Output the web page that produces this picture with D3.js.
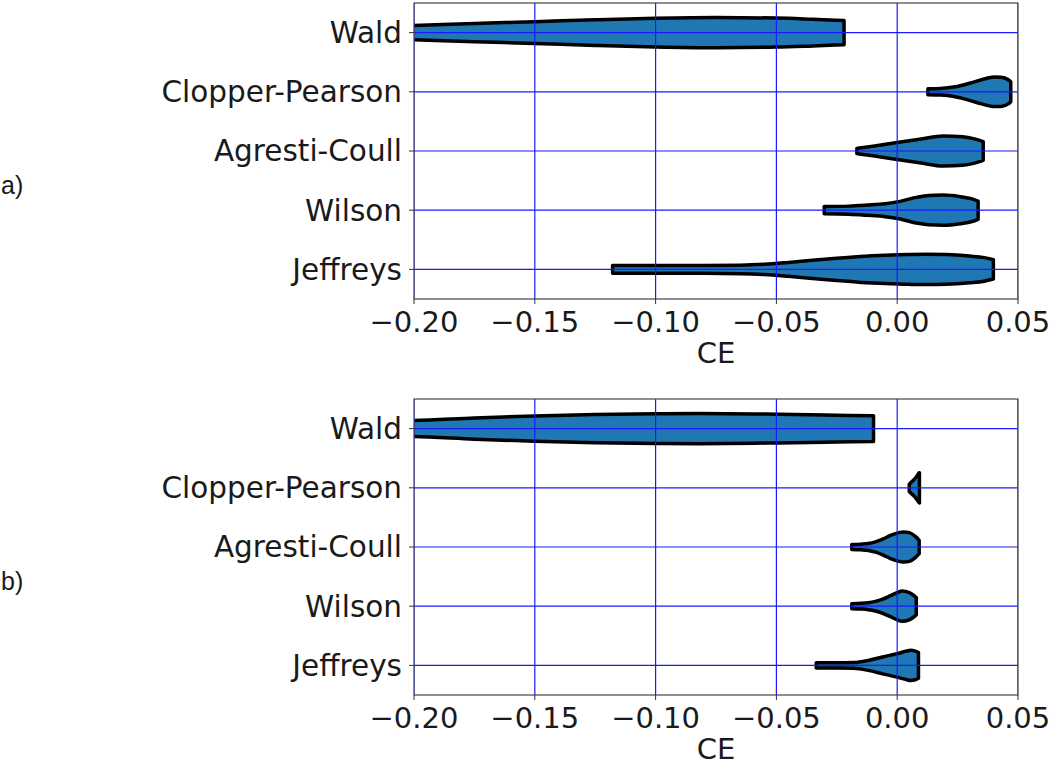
<!DOCTYPE html>
<html>
<head>
<meta charset="utf-8">
<script src="https://cdn.jsdelivr.net/npm/d3@7"></script>
<style>
  body { margin: 0; background: #fff; }
  text { font-family: "DejaVu Sans", sans-serif; fill: #1a1a1a; }
</style>
</head>
<body>
<svg id="chart" width="1051" height="765"></svg>
<script>
const methods = ["Wald", "Clopper-Pearson", "Agresti-Coull", "Wilson", "Jeffreys"];
const xTicks = [-0.2, -0.15, -0.1, -0.05, 0.0, 0.05];
const xTickLabels = ["\u22120.20", "\u22120.15", "\u22120.10", "\u22120.05", "0.00", "0.05"];
const panelNames = ["a)", "b)"];

// violin outlines: [CE, half width relative to the widest point]
const waldA = [[-0.21, 0.42], [-0.2, 0.47], [-0.175, 0.6], [-0.15, 0.72], [-0.125, 0.85], [-0.1, 0.95], [-0.075, 1.0], [-0.05, 0.96], [-0.035, 0.88], [-0.022, 0.8]];
const clopperA = [[0.0127, 0.2], [0.018, 0.22], [0.024, 0.33], [0.03, 0.57], [0.035, 0.8], [0.04, 0.98], [0.043, 0.97], [0.046, 0.8], [0.047, 0.66]];
const agrestiA = [[-0.0167, 0.17], [-0.01, 0.32], [0.0, 0.56], [0.01, 0.8], [0.019, 1.0], [0.027, 0.95], [0.032, 0.8], [0.0356, 0.62]];
const wilsonA = [[-0.0302, 0.24], [-0.02, 0.27], [-0.0125, 0.34], [-0.005, 0.43], [0.0, 0.55], [0.008, 0.85], [0.013, 0.97], [0.019, 1.0], [0.026, 0.9], [0.031, 0.75], [0.0335, 0.6]];
const jeffreysA = [[-0.1178, 0.26], [-0.1, 0.26], [-0.08, 0.26], [-0.065, 0.28], [-0.055, 0.34], [-0.045, 0.46], [-0.035, 0.6], [-0.025, 0.74], [-0.015, 0.86], [-0.005, 0.94], [0.005, 0.99], [0.012, 1.0], [0.02, 0.98], [0.03, 0.88], [0.036, 0.78], [0.0398, 0.64]];

const waldB = [[-0.21, 0.5], [-0.2, 0.53], [-0.175, 0.7], [-0.15, 0.84], [-0.125, 0.93], [-0.1, 0.98], [-0.082, 1.0], [-0.05, 0.95], [-0.03, 0.9], [-0.0098, 0.85]];
const clopperB = [[0.005, 0.24], [0.0058, 0.37], [0.0068, 0.52], [0.0078, 0.7], [0.0086, 0.88], [0.009, 0.98], [0.0092, 1.0]];
const agrestiB = [[-0.0188, 0.17], [-0.015, 0.19], [-0.012, 0.23], [-0.009, 0.34], [-0.006, 0.52], [-0.003, 0.75], [0.0, 0.92], [0.0026, 1.0], [0.005, 0.95], [0.0075, 0.7], [0.0091, 0.44]];
const wilsonB = [[-0.0188, 0.17], [-0.015, 0.19], [-0.012, 0.23], [-0.009, 0.32], [-0.006, 0.47], [-0.003, 0.68], [0.0, 0.9], [0.002, 1.0], [0.005, 0.9], [0.0079, 0.57]];
const jeffreysB = [[-0.0335, 0.17], [-0.025, 0.17], [-0.018, 0.19], [-0.012, 0.33], [-0.006, 0.56], [0.0, 0.78], [0.004, 0.95], [0.0054, 1.0], [0.0075, 0.95], [0.0088, 0.85]];

const panels = [
  { name: panelNames[0], top: 3, bottom: 299, violins: [waldA, clopperA, agrestiA, wilsonA, jeffreysA] },
  { name: panelNames[1], top: 399, bottom: 695, violins: [waldB, clopperB, agrestiB, wilsonB, jeffreysB] }
];

const svg = d3.select("#chart");
const left = 414, right = 1018;

const x = d3.scaleLinear().domain([-0.2, 0.05]).range([left, right]);

panels.forEach((p, pi) => {
  const g = svg.append("g");
  const y = d3.scaleBand().domain(methods).range([p.top, p.bottom]);
  const cy = m => y(m) + y.bandwidth() / 2;
  const hw = y.bandwidth() * 0.255;

  const clipId = "clip" + pi;
  svg.append("clipPath").attr("id", clipId)
    .append("rect")
    .attr("x", left).attr("y", p.top)
    .attr("width", right - left).attr("height", p.bottom - p.top);

  const plot = g.append("g").attr("clip-path", `url(#${clipId})`);

  methods.forEach((m, i) => {
    const area = d3.area()
      .x(d => x(d[0]))
      .y0(d => cy(m) - d[1] * hw)
      .y1(d => cy(m) + d[1] * hw)
      .curve(d3.curveMonotoneX);
    plot.append("path")
      .attr("d", area(p.violins[i]))
      .attr("fill", "#1f77b4")
      .attr("stroke", "#000")
      .attr("stroke-width", 3.5)
      .attr("stroke-linejoin", "round");
  });

  // grid on top of the violins
  plot.selectAll(".vgrid")
    .data(xTicks)
    .enter().append("line")
    .attr("x1", d => x(d)).attr("x2", d => x(d))
    .attr("y1", p.top).attr("y2", p.bottom)
    .attr("stroke", "#1a1aff").attr("stroke-width", 1.2);

  plot.selectAll(".hgrid")
    .data(methods)
    .enter().append("line")
    .attr("x1", left).attr("x2", right)
    .attr("y1", d => cy(d)).attr("y2", d => cy(d))
    .attr("stroke", "#1a1aff").attr("stroke-width", 1.2);

  g.append("rect")
    .attr("x", left).attr("y", p.top)
    .attr("width", right - left).attr("height", p.bottom - p.top)
    .attr("fill", "none").attr("stroke", "#444").attr("stroke-width", 1.2);

  // x axis
  const xa = g.append("g").attr("transform", `translate(0,${p.bottom})`);
  xTicks.forEach((t, i) => {
    xa.append("line")
      .attr("x1", x(t)).attr("x2", x(t))
      .attr("y1", 0).attr("y2", 5)
      .attr("stroke", "#333").attr("stroke-width", 1);
    xa.append("text")
      .attr("x", x(t)).attr("y", 12)
      .attr("dy", "0.71em")
      .attr("text-anchor", "middle")
      .attr("font-size", 29)
      .text(xTickLabels[i]);
  });
  g.append("text")
    .attr("x", (left + right) / 2).attr("y", p.bottom + 54)
    .attr("dy", "0.35em")
    .attr("text-anchor", "middle")
    .attr("font-size", 29)
    .text("CE");

  // y axis
  methods.forEach(m => {
    g.append("line")
      .attr("x1", left - 5).attr("x2", left)
      .attr("y1", cy(m)).attr("y2", cy(m))
      .attr("stroke", "#333").attr("stroke-width", 1);
    g.append("text")
      .attr("x", left - 12).attr("y", cy(m))
      .attr("dy", "0.35em")
      .attr("text-anchor", "end")
      .attr("font-size", 29.5)
      .text(m);
  });

  g.append("text")
    .attr("x", 1).attr("y", (p.top + p.bottom) / 2 + 34)
    .attr("dy", "0.35em")
    .style("font-family", "'Liberation Sans', Arial, sans-serif")
    .attr("font-size", 25)
    .text(p.name);
});
</script>
</body>
</html>
